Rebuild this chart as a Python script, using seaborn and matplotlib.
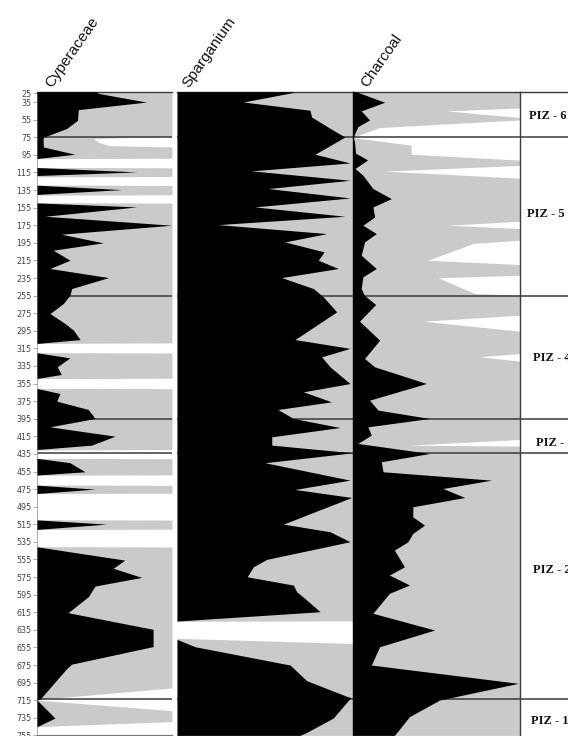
import numpy as np
import pandas as pd
import matplotlib
matplotlib.use('Agg')
import matplotlib.pyplot as plt
import seaborn as sns

sns.set_theme(style="white")
plt.rcParams['font.family'] = ['Liberation Sans', 'DejaVu Sans']

# ---- data (depth in cm, values in % of panel width) ----
depth_ticks = [25, 35] + list(range(55, 756, 20))

zone_depths = [75, 255, 395, 434, 714]
zone_labels = ['PIZ - 6', 'PIZ - 5', 'PIZ - 4', 'PIZ - 3', 'PIZ - 2', 'PIZ - 1']
zone_label_depths = [51, 162, 326, 423, 567, 739]

taxa = ['Cyperaceae', 'Sparganium', 'Charcoal']

# Cyperaceae
cyp_depth = [23.2, 25, 35, 43.6, 55.7, 65, 75, 78, 86, 94.3, 99.2, 109.4, 114.4, 118.5,
             129.5, 134.5, 140, 149.6, 154.2, 164.8, 175, 185.2, 195, 203.4, 214.8, 224.2,
             234.5, 247, 254.5, 264, 275.4, 286.7, 294.3, 305, 309.4, 320, 325.8, 336,
             344.7, 349.2, 360.6, 366.3, 375, 384.5, 394.7, 404.2, 414.8, 425, 430, 440,
             445, 455.3, 459, 470.5, 475, 480, 510, 514.8, 520.8, 540.6, 555.7, 565, 575.4,
             585.2, 597.3, 615.5, 634.4, 654, 674, 679, 713.9, 714.8, 735.3, 745, 755]
cyp_black = [45, 45, 81, 30.6, 30, 22, 4.7, 4.5, 4.7, 28, 0, 0, 74, 0,
             0, 62.7, 0, 0, 73.8, 6, 99.8, 18, 49, 12, 24.4, 9.6,
             53, 25.7, 24.4, 19.5, 9.6, 20.7, 27, 31.9, 0, 0, 24.4, 15,
             18, 0, 0, 17, 14.6, 38, 43, 9.6, 57.8, 40.5, 0, 0,
             24.4, 35.6, 0, 0, 43, 0, 0, 51.6, 0, 0, 65, 56.5, 77.5,
             43, 38, 23, 86, 86, 25.7, 22, 2.2, 0, 13.3, 0, 0]
cyp_gdepth = [23.2, 73.9, 76.6, 81.5, 84.5, 86, 98.8, 99.4, 109.3, 109.7, 119.6, 120,
              129.3, 129.7, 140.4, 140.8, 149.4, 149.8, 308.8, 309.4, 319.8, 320.3,
              349, 349.4, 360.4, 360.8, 430, 430.5, 440, 440.4, 458.8, 459.2, 470.3,
              470.7, 479.7, 480.1, 509.8, 510.2, 520.6, 521, 540.4, 540.8, 701, 714,
              714.8, 726.9, 739.3, 745, 755]
cyp_gray = [100, 100, 41.7, 46.7, 54, 100, 100, 0, 0, 100, 100, 0,
            0, 100, 100, 0, 0, 100, 100, 0, 0, 100,
            100, 0, 0, 100, 100, 0, 0, 100, 100, 0, 0,
            100, 100, 0, 0, 100, 100, 0, 0, 100, 100, 2.2,
            0, 100, 100, 0, 0]

# Sparganium
spa_depth = [23.2, 24.2, 34.9, 44.3, 52, 67, 74.7, 94.3, 104.2, 113.2, 123.9, 133.3,
             144, 154.2, 164.8, 174.3, 184.5, 194, 205.3, 214.8, 224.2, 234.5, 247,
             256.5, 273.5, 305, 315, 324.6, 336, 355, 364.4, 375.8, 384.5, 394.7, 405,
             415.5, 425, 433.7, 445, 464.8, 475.4, 484.5, 514.8, 523.5, 534.8, 554.9,
             563.3, 574.7, 584.1, 591.7, 601.1, 614.4, 625, 645.8, 654.2, 675, 692.8,
             710.6, 712, 735.3, 752.6, 755]
spa_black = [66, 66, 37.8, 75.8, 76.7, 89, 95.7, 78.6, 98.6, 42.5, 98.6, 52,
             98.6, 44.4, 95.7, 23.5, 85.3, 61.5, 83.8, 80.5, 91.9, 59.6, 77.7,
             83.4, 91, 67.2, 98.6, 82.4, 87.2, 98.6, 72, 88, 57.5, 66.3, 92.9,
             54, 54, 100, 50.1, 98.6, 67.2, 99.5, 60.6, 87.2, 98.6, 51.1,
             43.5, 40, 66.3, 68.2, 73.9, 81.5, 0, 0, 10.3, 64.4, 73.9,
             96.7, 99, 89, 72.9, 70]
spa_gdepth = [23.2, 624.8, 625.3, 644.7, 650.4, 755]
spa_gray = [100, 100, 0, 0, 100, 100]

# Charcoal
cha_depth = [23.2, 35.2, 45, 55.3, 62.9, 75.3, 80, 93, 100.8, 110.5, 118.2, 133.3,
             144.8, 154.2, 165.6, 175, 184.5, 194, 209.1, 224.2, 233.7, 247, 254.5,
             265.1, 284.1, 305.7, 326.5, 336, 354.9, 373.9, 385.2, 394.7, 404.2,
             413.6, 423.1, 434.5, 443.9, 455.3, 464.8, 474.3, 484.5, 495.1, 506.5,
             516, 525.4, 535, 544.3, 563.3, 572.7, 584, 593.5, 616.2, 635.2, 654.2,
             675, 695.8, 714.8, 733.7, 752.7, 755]
cha_black = [2.2, 19.2, 5.2, 10.2, 3.2, 0.3, 1.2, 1.8, 9, 1.5, 6.2, 12.2,
             23.2, 12.2, 13.2, 6.2, 14.2, 7.2, 5.2, 14.2, 6.2, 5.2, 7,
             13.8, 4.2, 16.2, 7.2, 13.2, 44.1, 10.2, 15.2, 46, 9.2,
             11.2, 3.2, 46, 17.2, 18.2, 83, 54, 67, 36, 36,
             43, 36, 33, 25, 31, 22, 34, 22, 12.2, 49, 16.2,
             11.2, 99, 52, 34, 26, 25]
cha_gdepth = [23.2, 41.7, 45, 52.6, 55.3, 64, 75.3, 84, 94.3, 101, 107, 113.5, 121.5,
              170.5, 175, 178.8, 192, 195.8, 214.8, 219.7, 231.8, 234.8, 252.6, 254.5,
              277.3, 284.1, 295.5, 320.8, 324.6, 329.5, 418.6, 425, 426.1, 755]
cha_gray = [100, 100, 56, 100, 100, 16, 0, 35, 35, 100, 100, 19, 100,
            100, 57, 100, 100, 72, 45, 100, 100, 51, 73, 100,
            100, 42, 100, 100, 76, 100, 100, 34, 100, 100]

# ---- layout in pixels ----
W, H = 568, 736
Y_TOP, Y_BOT = 91.7, 735.4
GRAY = '#cacaca'
LINE = '#3a3a3a'

fig = plt.figure(figsize=(W / 100, H / 100), dpi=100)


def px_axes(x0, x1):
    return fig.add_axes([x0 / W, 1 - Y_BOT / H, (x1 - x0) / W, (Y_BOT - Y_TOP) / H])


def panel(ax, bd, bv, gd, gv):
    ax.fill_betweenx(gd, 0, gv, color=GRAY, lw=0, zorder=1)
    ax.hlines(zone_depths, 0, 100, color=LINE, lw=1.1, zorder=2)
    ax.fill_betweenx(bd, 0, bv, color='black', lw=0, zorder=3)
    ax.set_xlim(0, 100)
    ax.set_ylim(755, 23.2)
    ax.set_xticks([])
    ax.set_yticks([])
    for s in ax.spines.values():
        s.set_visible(False)
    ax.spines['top'].set_visible(True)
    ax.spines['top'].set_color(LINE)
    ax.spines['top'].set_linewidth(1.0)
    ax.patch.set_alpha(0)


ax_c = px_axes(37, 172)
panel(ax_c, cyp_depth, cyp_black, cyp_gdepth, cyp_gray)
ax_c.spines['left'].set_visible(True)
ax_c.spines['left'].set_color('#9a9a9a')
ax_c.spines['left'].set_linewidth(0.6)
ax_c.spines['bottom'].set_visible(True)
ax_c.spines['bottom'].set_color('#777777')
ax_c.spines['bottom'].set_linewidth(0.8)
ax_c.set_yticks(depth_ticks)
ax_c.set_yticklabels([str(t) for t in depth_ticks], family='DejaVu Sans',
                     fontsize=5.8, color='#444444')
ax_c.tick_params(axis='y', left=True, length=3, width=0.5, color='#888888', pad=1)

ax_s = px_axes(177, 352.5)
panel(ax_s, spa_depth, spa_black, spa_gdepth, spa_gray)

ax_h = px_axes(352.5, 520)
panel(ax_h, cha_depth, cha_black, cha_gdepth, cha_gray)
ax_h.spines['left'].set_visible(True)
ax_h.spines['left'].set_color('black')
ax_h.spines['left'].set_linewidth(1.0)

# zone column
ax_z = px_axes(520, 640)
ax_z.set_xlim(0, 120)
ax_z.set_ylim(755, 23.2)
ax_z.set_xticks([])
ax_z.set_yticks([])
for s in ax_z.spines.values():
    s.set_visible(False)
for side in ['left', 'top']:
    ax_z.spines[side].set_visible(True)
    ax_z.spines[side].set_color(LINE)
    ax_z.spines[side].set_linewidth(1.0)
ax_z.hlines(zone_depths, 0, 120, color=LINE, lw=1.1)
zone_label_x = [9, 7, 13, 16, 13, 11]
for lab, d, x in zip(zone_labels, zone_label_depths, zone_label_x):
    ax_z.text(x, d, lab, family='Liberation Serif', fontweight='bold', fontsize=9,
              color='#111111', ha='left', va='center')

# rotated taxon names
title_px = [(52, 88), (189, 88), (367, 88)]
for name, (x, y) in zip(taxa, title_px):
    fig.text(x / W, 1 - y / H, name, rotation=55, rotation_mode='anchor',
             ha='left', va='baseline', fontsize=11, color='#111111')

fig.savefig('out.png', dpi=100)
